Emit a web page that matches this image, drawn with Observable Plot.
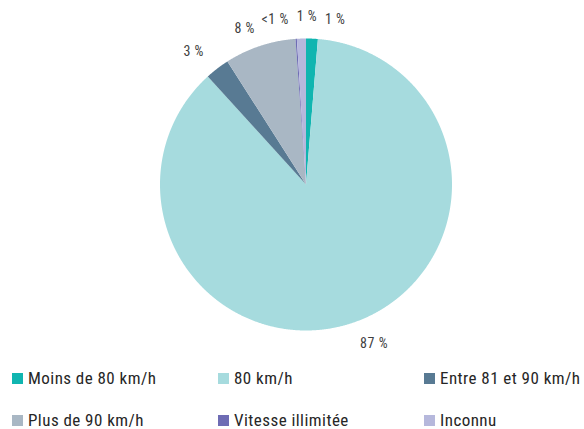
<!DOCTYPE html>
<html>
<head>
<meta charset="utf-8">
<script src="https://cdn.jsdelivr.net/npm/d3@7"></script>
<script src="https://cdn.jsdelivr.net/npm/@observablehq/plot@0.6"></script>
<style>
  html, body { margin: 0; padding: 0; background: #fff; }
  body { width: 584px; height: 429px; overflow: hidden; font-family: "Liberation Sans Narrow", "Roboto Condensed", "DejaVu Sans Condensed", sans-serif; }
  #legend { display: grid; grid-template-columns: 206px 206px 172px; row-gap: 26px; padding: 10px 0 0 12px; }
  .item { display: flex; align-items: center; height: 16px; line-height: 16px; font-size: 17px; letter-spacing: 0.45px; color: #262626; white-space: nowrap; }
  .sw { width: 11px; height: 11px; margin-right: 5px; flex: none; }
</style>
</head>
<body>
<div id="chart"></div>
<div id="legend"></div>
<script>
const categories = ["Moins de 80 km/h", "80 km/h", "Entre 81 et 90 km/h", "Plus de 90 km/h", "Vitesse illimitée", "Inconnu"];
const values = [1.3, 87.0, 2.7, 7.9, 0.15, 1.0];
const labels = ["1 %", "87 %", "3 %", "8 %", "<1 %", "1 %"];
const colors = ["#10b5b0", "#a6dbde", "#587a93", "#a9b7c4", "#6e6cb4", "#b6b8dc"];

const FONT = '"Liberation Sans Narrow", "Roboto Condensed", "DejaVu Sans Condensed", sans-serif';
const total = d3.sum(values);
const deg = Math.PI / 180;
const cx = 305.5, cy = 184, R = 146, LR = 1.15;

// slice polygons (angle clockwise from 12 o'clock)
const slices = [];
const mids = [];
let start = 0;
values.forEach((v, i) => {
  const a0 = start, a1 = start + (v / total) * 2 * Math.PI;
  start = a1;
  mids.push((a0 + a1) / 2);
  const n = Math.max(2, Math.ceil((a1 - a0) / (0.25 * deg)));
  slices.push({cat: categories[i], x: 0, y: 0});
  for (let k = 0; k <= n; k++) {
    const a = a0 + (a1 - a0) * k / n;
    slices.push({cat: categories[i], x: Math.sin(a), y: Math.cos(a)});
  }
  slices.push({cat: categories[i], x: 0, y: 0});
});

// label widths for collision spreading
const ctx = document.createElement("canvas").getContext("2d");
ctx.font = "14px " + FONT;
const widths = labels.map(t => ctx.measureText(t).width + 0.5 * t.length);

// label angles, spread apart to avoid overlap
let la = mids.map(a => { let d = a / deg; if (d >= 180) d -= 360; return d; });
const order = d3.range(la.length).sort((i, j) => la[i] - la[j]);
const pxPerDeg = R * LR * deg;
for (let it = 0; it < 300; it++) {
  for (let k = 0; k < order.length - 1; k++) {
    const i = order[k], j = order[k + 1];
    const minSep = ((widths[i] + widths[j]) / 2 + 8) / pxPerDeg;
    const gap = la[j] - la[i];
    if (gap < minSep) { const d = (minSep - gap) / 2; la[i] -= d; la[j] += d; }
  }
}
const labelData = categories.map((c, i) => {
  const a = la[i] * deg;
  const s = Math.sin(a);
  return {
    text: labels[i],
    x: LR * s,
    y: LR * Math.cos(a),
    anchor: s > 0.25 ? "start" : s < -0.5 ? "end" : "middle"
  };
});

const lblStyle = {x: "x", y: "y", text: "text", fontSize: 14, fill: "#404040"};
const chart = Plot.plot({
  width: 584,
  height: 360,
  margin: 0,
  x: {domain: [-1, 1], range: [cx - R, cx + R], axis: null},
  y: {domain: [-1, 1], range: [cy + R, cy - R], axis: null},
  color: {domain: categories, range: colors},
  style: {fontFamily: FONT, background: "#fff"},
  marks: [
    Plot.line(slices, {x: "x", y: "y", z: "cat", fill: "cat", stroke: "none"}),
    Plot.text(labelData.filter(d => d.anchor === "start"), {...lblStyle, textAnchor: "start"}),
    Plot.text(labelData.filter(d => d.anchor === "end"), {...lblStyle, textAnchor: "end"}),
    Plot.text(labelData.filter(d => d.anchor === "middle"), {...lblStyle, textAnchor: "middle"})
  ]
});
chart.querySelectorAll("text").forEach(t => t.setAttribute("letter-spacing", "0.5"));
document.getElementById("chart").appendChild(chart);

const legend = document.getElementById("legend");
categories.forEach((c, i) => {
  const item = document.createElement("div");
  item.className = "item";
  const sw = document.createElement("span");
  sw.className = "sw";
  sw.style.background = colors[i];
  item.appendChild(sw);
  item.appendChild(document.createTextNode(c));
  legend.appendChild(item);
});
</script>
</body>
</html>
